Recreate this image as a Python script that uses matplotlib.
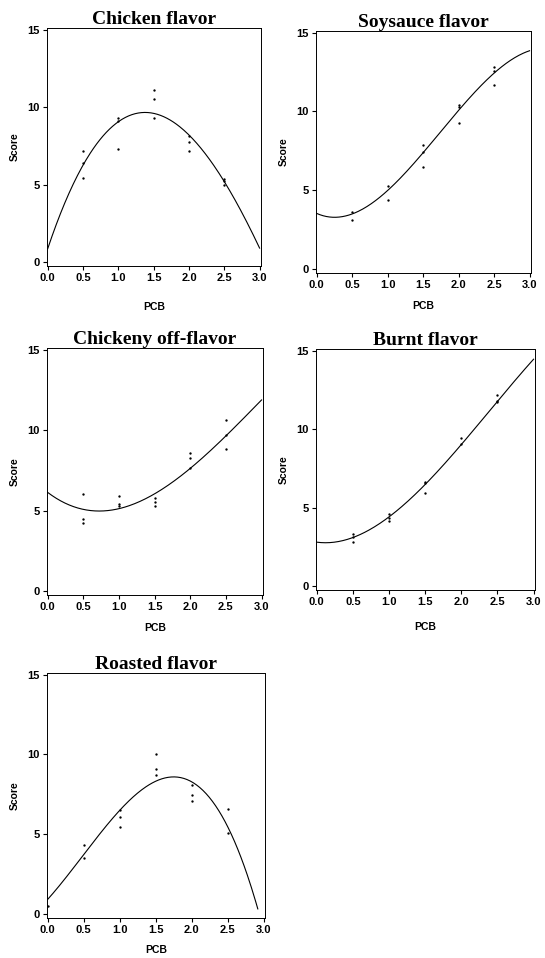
import numpy as np
import matplotlib
matplotlib.use("Agg")
import matplotlib.pyplot as plt

W, H = 545, 958

# ---- data (PCB level vs. sensory score) ----
titles = ["Chicken flavor", "Soysauce flavor", "Chickeny off-flavor", "Burnt flavor", "Roasted flavor"]

chicken_x = [0.5, 0.5, 0.5, 1.0, 1.0, 1.0, 1.5, 1.5, 1.5, 2.0, 2.0, 2.0, 2.5, 2.5, 2.5]
chicken_y = [7.15, 6.4, 5.4, 9.3, 9.1, 7.3, 11.1, 10.55, 9.3, 8.15, 7.75, 7.15, 5.35, 5.2, 5.0]

soy_x = [0.5, 0.5, 1.0, 1.0, 1.5, 1.5, 1.5, 2.0, 2.0, 2.0, 2.5, 2.5, 2.5]
soy_y = [3.6, 3.1, 5.25, 4.35, 7.85, 7.45, 6.5, 10.4, 10.25, 9.25, 12.8, 12.55, 11.7]

offfl_x = [0.5, 0.5, 0.5, 1.0, 1.0, 1.0, 1.5, 1.5, 1.5, 2.0, 2.0, 2.0, 2.5, 2.5, 2.5]
offfl_y = [6.0, 4.5, 4.25, 5.9, 5.4, 5.25, 5.75, 5.55, 5.3, 8.6, 8.25, 7.65, 10.65, 9.7, 8.85]

burnt_x = [0.5, 0.5, 0.5, 1.0, 1.0, 1.0, 1.5, 1.5, 1.5, 2.0, 2.0, 2.5, 2.5, 2.5]
burnt_y = [3.3, 3.1, 2.8, 4.6, 4.35, 4.15, 6.65, 6.55, 5.95, 9.4, 9.05, 12.15, 11.8, 11.7]

roast_x = [0.0, 0.5, 0.5, 1.0, 1.0, 1.0, 1.5, 1.5, 1.5, 2.0, 2.0, 2.0, 2.5, 2.5]
roast_y = [0.5, 4.3, 3.5, 6.5, 6.05, 5.45, 10.0, 9.1, 8.7, 8.1, 7.45, 7.1, 6.6, 5.05]

# fitted regression curves
chicken_cx = [0.0, 0.5, 1.0, 1.4, 1.5, 2.0, 2.5, 3.0]
chicken_cy = [0.81, 6.4, 8.97, 9.66, 9.57, 8.12, 5.34, 0.85]
soy_cx = [0.0, 0.25, 0.5, 1.0, 1.5, 2.0, 2.5, 3.0]
soy_cy = [3.53, 3.26, 3.53, 4.98, 7.37, 10.06, 12.45, 13.84]
offfl_cx = [0.0, 0.5, 0.75, 1.0, 1.5, 2.0, 2.5, 3.0]
offfl_cy = [6.15, 5.0, 4.94, 5.21, 6.04, 7.6, 9.63, 11.88]
burnt_cx = [0.0, 0.2, 0.5, 1.0, 1.5, 2.0, 2.5, 3.0]
burnt_cy = [2.81, 2.74, 3.12, 4.41, 6.44, 9.04, 11.75, 14.45]
roast_cx = [0.0, 0.5, 1.0, 1.5, 1.75, 2.0, 2.5, 2.92]
roast_cy = [0.94, 3.66, 6.53, 8.37, 8.62, 8.16, 5.54, 0.31]

x_ticks = [0.0, 0.5, 1.0, 1.5, 2.0, 2.5, 3.0]
x_ticklabels = ["0.0", "0.5", "1.0", "1.5", "2.0", "2.5", "3.0"]
y_ticks = [0, 5, 10, 15]

panels = [
    (chicken_x, chicken_y, chicken_cx, chicken_cy),
    (soy_x, soy_y, soy_cx, soy_cy),
    (offfl_x, offfl_y, offfl_cx, offfl_cy),
    (burnt_x, burnt_y, burnt_cx, burnt_cy),
    (roast_x, roast_y, roast_cx, roast_cy),
]

# pixel frames (left, top, right, bottom) and x-label pads
frames = [
    (47, 28, 261, 266),
    (316, 31, 531, 273),
    (47, 348, 263, 595),
    (316, 349, 535, 590),
    (47, 673, 265, 918),
]
xpads = [14, 8, 8, 11, 7]

fig = plt.figure(figsize=(W / 100, H / 100), dpi=100)
fig.patch.set_facecolor("white")

for (px, py, cx, cy), title, (l, t, r, b), xp in zip(panels, titles, frames, xpads):
    ax = fig.add_axes([l / W, 1 - b / H, (r - l) / W, (b - t) / H])
    coef = np.polyfit(cx, cy, 3)
    xs = np.linspace(cx[0], cx[-1], 200)
    ax.plot(xs, np.polyval(coef, xs), color="black", lw=0.8)
    ax.plot(px, py, "o", color="black", ms=1.7, mew=0)
    ax.set_xlim(-0.01, 3.02)
    ax.set_ylim(-0.25, 15.1)
    ax.set_xticks(x_ticks)
    ax.set_xticklabels(x_ticklabels)
    ax.set_yticks(y_ticks)
    ax.tick_params(direction="out", length=3, width=0.8, labelsize=8, pad=2)
    for lab in ax.get_xticklabels() + ax.get_yticklabels():
        lab.set_family("Liberation Sans")
        lab.set_fontweight("bold")
    for sp in ax.spines.values():
        sp.set_linewidth(0.7)
        sp.set_linestyle((0, (3, 1)))
    ax.set_title(title, family="Liberation Serif", fontweight="bold", fontsize=14, pad=3)
    ax.set_xlabel("PCB", family="Liberation Sans", fontweight="bold", fontsize=7.5, labelpad=xp)
    ax.set_ylabel("Score", family="Liberation Sans", fontweight="bold", fontsize=7.5, labelpad=6)

fig.savefig("out.png", dpi=100)
